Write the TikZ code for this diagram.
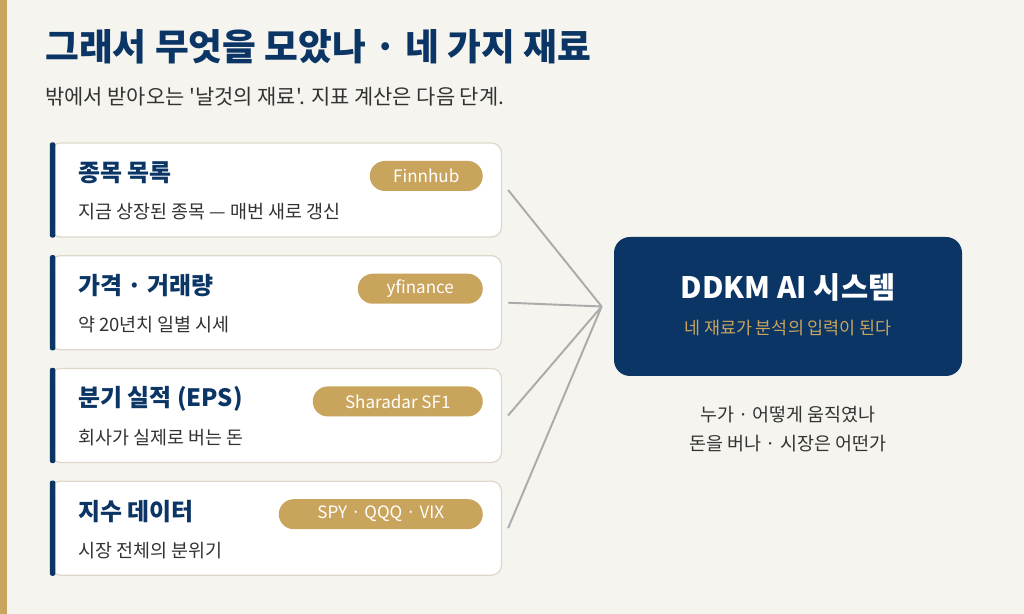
\documentclass[tikz,border=0pt]{standalone}
\usepackage{fontspec}
\setmainfont{Noto Sans CJK KR}[Ligatures=TeXOff]
\usetikzlibrary{positioning,calc}
\definecolor{navy}{HTML}{0B3565}
\definecolor{gold}{HTML}{C9A45C}
\definecolor{paper}{HTML}{F5F4EF}
\definecolor{ink}{HTML}{333333}
\definecolor{cardline}{HTML}{DFD8CA}
\definecolor{wire}{HTML}{ABABAB}

\begin{document}
\begin{tikzpicture}[node distance = 0.35cm, auto]
	\tikzstyle{card} = [rectangle, rounded corners=0.2cm, minimum width=9.02cm, minimum height=1.88cm, draw=cardline, line width=0.7pt, fill=white]
	\tikzstyle{pill} = [rectangle, rounded corners=0.3cm, minimum height=0.6cm, inner sep=0pt, fill=gold, text=white, anchor=east, font=\fontsize{9.7}{12}\selectfont]
	\tikzstyle{cardtitle} = [anchor=west, inner sep=0pt, text=navy, font=\bfseries\fontsize{13.6}{16}\selectfont]
	\tikzstyle{carddesc} = [anchor=west, inner sep=0pt, text=ink, font=\fontsize{10.5}{12}\selectfont]
	\tikzstyle{feed} = [draw=wire, line width=1.1pt]

	% page
	\fill [paper] (0,0) rectangle (20.48,12.28);
	\useasboundingbox (0,0) rectangle (20.48,12.28);
	\fill [gold] (0,0) rectangle (0.14,12.28);

	\node (title) [anchor=west, inner sep=0pt, text=navy, font=\bfseries\fontsize{20.9}{24}\selectfont] at (0.9,11.34) {그래서 무엇을 모았나 · 네 가지 재료};
	\node (subtitle) [anchor=west, inner sep=0pt, text=ink, font=\fontsize{11.9}{14}\selectfont] at (0.9,10.34) {밖에서 받아오는 '날것의 재료'. 지표 계산은 다음 단계.};

	% the four sources
	\node (card1) [card] at (5.52,8.48) {};
	\node (card2) [card, below=of card1] {};
	\node (card3) [card, below=of card2] {};
	\node (card4) [card, below=of card3] {};

	\fill [navy, rounded corners=1.2pt] (card1.north west) rectangle ($(card1.south west)+(0.11,0)$);
	\fill [navy, rounded corners=1.2pt] (card2.north west) rectangle ($(card2.south west)+(0.11,0)$);
	\fill [navy, rounded corners=1.2pt] (card3.north west) rectangle ($(card3.south west)+(0.11,0)$);
	\fill [navy, rounded corners=1.2pt] (card4.north west) rectangle ($(card4.south west)+(0.11,0)$);

	\node (name1) [cardtitle] at ($(card1.west)+(0.56,0.34)$) {종목 목록};
	\node (desc1) [carddesc] at ($(card1.west)+(0.56,-0.44)$) {지금 상장된 종목 — 매번 새로 갱신};
	\node (src1) [pill, minimum width=2.26cm] at ($(card1.east)+(-0.38,0.28)$) {Finnhub};

	\node (name2) [cardtitle] at ($(card2.west)+(0.56,0.34)$) {가격 · 거래량};
	\node (desc2) [carddesc] at ($(card2.west)+(0.56,-0.44)$) {약 20년치 일별 시세};
	\node (src2) [pill, minimum width=2.5cm] at ($(card2.east)+(-0.38,0.28)$) {yfinance};

	\node (name3) [cardtitle] at ($(card3.west)+(0.56,0.34)$) {분기 실적 (EPS)};
	\node (desc3) [carddesc] at ($(card3.west)+(0.56,-0.44)$) {회사가 실제로 버는 돈};
	\node (src3) [pill, minimum width=3.4cm] at ($(card3.east)+(-0.38,0.28)$) {Sharadar SF1};

	\node (name4) [cardtitle] at ($(card4.west)+(0.56,0.34)$) {지수 데이터};
	\node (desc4) [carddesc] at ($(card4.west)+(0.56,-0.44)$) {시장 전체의 분위기};
	\node (src4) [pill, minimum width=4.08cm] at ($(card4.east)+(-0.38,0.28)$) {SPY · QQQ · VIX};

	% the system
	\node (ai) [rectangle, rounded corners=0.32cm, minimum width=6.96cm, minimum height=2.78cm, fill=navy] at (15.76,6.15) {};
	\node (aititle) [inner sep=0pt, text=white, font=\bfseries\fontsize{16.8}{20}\selectfont] at ($(ai.center)+(0,0.39)$) {DDKM AI 시스템};
	\node (aisub) [inner sep=0pt, text=gold, font=\fontsize{9.9}{12}\selectfont] at ($(ai.center)+(0,-0.43)$) {네 재료가 분석의 입력이 된다};
	\node (note) [below=0.6cm of ai, inner sep=0pt, align=center, text=ink, font=\fontsize{10.5}{16}\selectfont] {누가 · 어떻게 움직였나\\돈을 버나 · 시장은 어떤가};

	\coordinate (hub) at ($(ai.west)+(-0.24,0)$);
	\draw [feed] ([xshift=0.12cm]card1.east) -- (hub);
	\draw [feed] ([xshift=0.12cm]card2.east) -- (hub);
	\draw [feed] ([xshift=0.12cm]card3.east) -- (hub);
	\draw [feed] ([xshift=0.12cm]card4.east) -- (hub);
\end{tikzpicture}
\end{document}
